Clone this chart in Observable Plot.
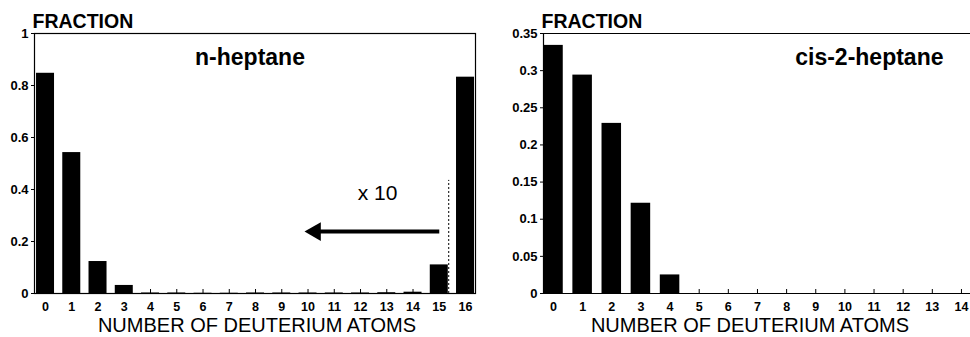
<!DOCTYPE html>
<html>
<head>
<meta charset="utf-8">
<script src="https://cdn.jsdelivr.net/npm/d3@7"></script>
<script src="https://cdn.jsdelivr.net/npm/@observablehq/plot@0.6"></script>
<style>
  html, body { margin: 0; padding: 0; background: white; }
  #wrap { width: 970px; height: 337px; overflow: hidden; display: flex; flex-direction: row; }
  #wrap svg { max-width: none; flex: none; }
</style>
</head>
<body>
<div id="wrap"></div>
<script>
// ---- data ----
const leftCounts = [0,1,2,3,4,5,6,7,8,9,10,11,12,13,14,15,16];
const leftFractions = [0.847, 0.542, 0.123, 0.031, 0.002, 0.002, 0.001, 0.001, 0.002, 0.002, 0.002, 0.002, 0.002, 0.003, 0.005, 0.110, 0.832];
const rightCounts = [0,1,2,3,4,5,6,7,8,9,10,11,12,13,14];
const rightFractions = [0.334, 0.294, 0.229, 0.1215, 0.025, 0, 0, 0, 0, 0, 0, 0, 0, 0, 0];
const leftYTicks = [0, 0.2, 0.4, 0.6, 0.8, 1];
const rightYTicks = [0, 0.05, 0.1, 0.15, 0.2, 0.25, 0.3, 0.35];
const leftTitle = "n-heptane";
const rightTitle = "cis-2-heptane";
const yTitle = "FRACTION";
const xTitle = "NUMBER OF DEUTERIUM ATOMS";
const scaleNote = "x 10";

const leftData = leftCounts.map((n, i) => ({n, v: leftFractions[i]}));
const rightData = rightCounts.map((n, i) => ({n, v: rightFractions[i]}));

const font = "'Liberation Sans', Arial, Helvetica, sans-serif";
const W = 485, H = 337;

function panel({data, counts, yTicks, xDomain, yMax, half, marginLeft, marginRight, title, titleAnchor, titleDx, fullFrame, xLabelDx, extra}) {
  const marks = [
    Plot.rectY(data, {x1: d => d.n - half, x2: d => d.n + half, y1: 0, y2: "v", fill: "black"}),
    Plot.ruleX(counts, {x: d => d, y1: 0, y2: yMax * 4 / 260, stroke: "black", strokeWidth: 1}),
    Plot.axisX(counts, {tickSize: 0, tickPadding: 9, tickFormat: d => String(d), fontWeight: "bold", fontSize: 12.5, label: null}),
    Plot.axisY(yTicks, {tickSize: 3, tickPadding: 3, tickFormat: d => String(d), fontWeight: "bold", fontSize: 13, label: null}),
    Plot.text([yTitle], {frameAnchor: "top-left", textAnchor: "start", lineAnchor: "bottom", dy: -6, dx: -2, fontSize: 19.5, fontWeight: "bold", text: d => d}),
    Plot.text([xTitle], {frameAnchor: "bottom", textAnchor: "middle", lineAnchor: "bottom", dy: 38, dx: xLabelDx, fontSize: 20, fontWeight: "normal", text: d => d}),
    Plot.text([title], {frameAnchor: titleAnchor, textAnchor: titleAnchor === "top" ? "middle" : "end", lineAnchor: "bottom", dy: 31, dx: titleDx, fontSize: 23, fontWeight: "bold", text: d => d})
  ];
  if (fullFrame) {
    marks.push(Plot.frame({stroke: "black", strokeWidth: 1.2}));
  } else {
    marks.push(Plot.ruleY([yMax], {stroke: "black", strokeWidth: 1.2}));
    marks.push(Plot.ruleY([0], {stroke: "black", strokeWidth: 1.2}));
    marks.push(Plot.ruleX([xDomain[0]], {stroke: "black", strokeWidth: 1.2}));
  }
  if (extra) marks.push(...extra);
  return Plot.plot({
    width: W, height: H,
    marginTop: 33, marginBottom: 44, marginLeft, marginRight,
    style: {fontFamily: font, fontSize: "12px", color: "black", background: "white", overflow: "visible"},
    x: {type: "linear", domain: xDomain, axis: null},
    y: {domain: [0, yMax], axis: null},
    marks
  });
}

// annotations of the left panel (data coordinates)
const noteArrow = [{x1: 15.0, x2: 10.45, y: 0.238}];
const noteHead = [{x: 10.28, y: 0.238}];
const noteDivider = [{x: 15.36, y2: 0.435}];
const noteText = [{x: 12.65, y: 0.36, t: scaleNote}];

const left = panel({
  data: leftData, counts: leftCounts, yTicks: leftYTicks,
  xDomain: [-0.42, 16.38], yMax: 1, half: 0.343,
  marginLeft: 34, marginRight: 10,
  title: leftTitle, titleAnchor: "top", titleDx: -5, fullFrame: true, xLabelDx: 2,
  extra: [
    Plot.ruleX(noteDivider, {x: "x", y1: 0, y2: "y2", stroke: "black", strokeWidth: 1, strokeDasharray: "2,2"}),
    Plot.link(noteArrow, {x1: "x1", x2: "x2", y1: "y", y2: "y", stroke: "black", strokeWidth: 4}),
    Plot.dot(noteHead, {x: "x", y: "y", symbol: "triangle", r: 7, rotate: -90, fill: "black", stroke: null}),
    Plot.text(noteText, {x: "x", y: "y", text: "t", lineAnchor: "bottom", fontSize: 21, fontWeight: "normal"})
  ]
});

const right = panel({
  data: rightData, counts: rightCounts, yTicks: rightYTicks,
  xDomain: [-0.343, 14.31], yMax: 0.35, half: 0.335,
  marginLeft: 58, marginRight: 0,
  title: rightTitle, titleAnchor: "top-right", titleDx: -27, fullFrame: false, xLabelDx: -7
});

document.getElementById("wrap").append(left, right);
</script>
</body>
</html>
